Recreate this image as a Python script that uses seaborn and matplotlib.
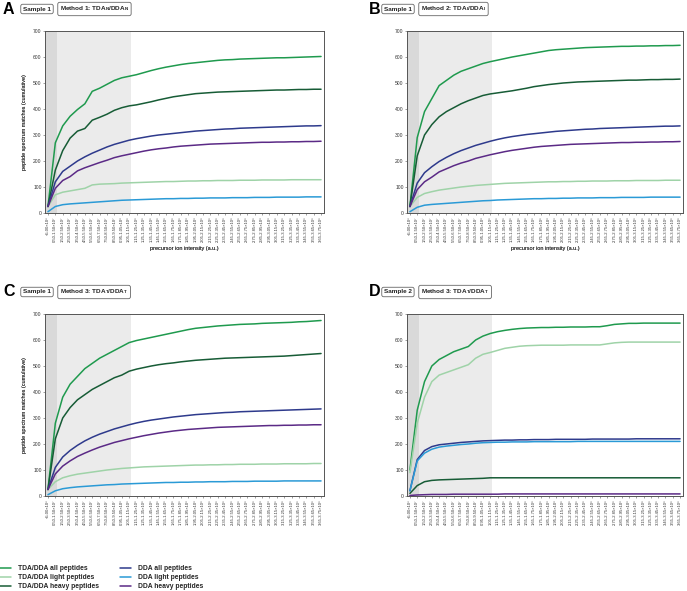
import matplotlib
matplotlib.use("Agg")
import matplotlib.pyplot as plt
import seaborn as sns
import pandas as pd

sns.set_theme(style="white")
plt.rcParams["font.family"] = ["Liberation Sans", "DejaVu Sans"]
plt.rcParams["mathtext.fontset"] = "custom"
plt.rcParams["mathtext.rm"] = "Liberation Sans"
plt.rcParams["mathtext.bf"] = "Liberation Sans:bold"

# ---------------- data ----------------
tick_ranges = ["<5.00", "0.50-1.50", "1.50-2.50", "2.50-3.50", "3.50-4.50", "4.50-5.50",
               "5.50-6.50", "6.50-7.50", "7.50-8.50", "8.50-9.50", "0.95-1.05", "1.05-1.15",
               "1.15-1.25", "1.25-1.35", "1.35-1.45", "1.45-1.55", "1.55-1.65", "1.65-1.75",
               "1.75-1.85", "1.85-1.95", "1.95-2.05", "2.05-2.15", "2.15-2.25", "2.25-2.35",
               "2.35-2.45", "2.45-2.55", "2.55-2.65", "2.65-2.75", "2.75-2.85", "2.85-2.95",
               "2.95-3.05", "3.05-3.15", "3.15-3.25", "3.25-3.35", "3.35-3.45", "3.45-3.55",
               "3.55-3.65", "3.65-3.75"]
tick_exps = ["⁶", "⁷", "⁷", "⁷", "⁷", "⁷", "⁷", "⁷", "⁷", "⁷", "⁸", "⁸", "⁸", "⁸", "⁸", "⁸",
             "⁸", "⁸", "⁸", "⁸", "⁸", "⁸", "⁸", "⁸", "⁸", "⁸", "⁸", "⁸", "⁸", "⁸", "⁸", "⁸",
             "⁸", "⁸", "⁸", "⁸", "⁸", "⁸"]

series_names = ["TDA/DDA all peptides", "TDA/DDA light peptides", "TDA/DDA heavy peptides",
                "DDA all peptides", "DDA light peptides", "DDA heavy peptides"]
series_colors = ["#1f9a4e", "#9fd3a8", "#175c36", "#2e3a8c", "#2a9ad6", "#5b2a86"]

# Panel A: Sample 1, Method 1
tda_all_A = [25, 270, 335, 372, 398, 420, 468, 480, 495, 510, 520, 526, 532, 540, 548, 555, 561, 566, 571, 575, 578, 581, 584, 587, 589, 590, 592, 593, 594, 595, 596, 597, 597, 598, 599, 600, 601, 602]
tda_light_A = [25, 70, 80, 85, 90, 95, 108, 111, 112, 113, 115, 116, 117, 118, 119, 120, 121, 121, 122, 123, 123, 124, 124, 125, 125, 125, 126, 126, 126, 127, 127, 127, 127, 128, 128, 128, 128, 128]
tda_heavy_A = [25, 165, 240, 288, 315, 325, 357, 368, 380, 395, 405, 412, 416, 422, 428, 435, 441, 447, 451, 455, 459, 461, 463, 465, 466, 467, 468, 469, 470, 471, 472, 473, 473, 474, 475, 475, 476, 476]
dda_all_A = [25, 120, 160, 180, 200, 216, 230, 242, 254, 264, 272, 280, 286, 291, 296, 300, 303, 306, 309, 312, 315, 317, 319, 321, 323, 324, 326, 327, 328, 329, 330, 331, 332, 333, 334, 335, 335, 336]
dda_light_A = [5, 25, 32, 35, 37, 39, 41, 43, 45, 47, 49, 50, 51, 52, 53, 54, 55, 55, 56, 56, 57, 57, 58, 58, 58, 59, 59, 59, 60, 60, 60, 61, 61, 61, 61, 62, 62, 62]
dda_heavy_A = [25, 95, 125, 140, 162, 174, 184, 194, 203, 213, 220, 226, 232, 238, 243, 247, 250, 254, 257, 259, 261, 263, 265, 266, 267, 268, 269, 270, 271, 272, 272, 273, 273, 274, 274, 275, 275, 276]

# Panel B: Sample 1, Method 2
tda_all_B = [25, 290, 390, 440, 490, 510, 530, 545, 555, 565, 575, 582, 588, 594, 600, 605, 610, 615, 620, 625, 628, 630, 632, 634, 636, 637, 638, 639, 640, 641, 641, 642, 642, 643, 643, 644, 644, 645]
tda_light_B = [25, 60, 75, 82, 88, 92, 96, 100, 103, 106, 108, 110, 112, 114, 115, 116, 117, 118, 119, 120, 120, 121, 121, 122, 122, 123, 123, 123, 124, 124, 124, 125, 125, 125, 125, 126, 126, 126]
tda_heavy_B = [25, 220, 300, 340, 370, 390, 405, 420, 432, 442, 452, 458, 462, 466, 470, 475, 480, 486, 490, 494, 497, 500, 502, 504, 505, 506, 507, 508, 509, 510, 511, 511, 512, 513, 513, 514, 514, 515]
dda_all_B = [25, 115, 155, 178, 198, 214, 228, 240, 250, 260, 268, 276, 283, 289, 294, 298, 302, 305, 308, 311, 314, 316, 318, 320, 322, 323, 325, 326, 327, 328, 329, 330, 331, 332, 333, 334, 334, 335]
dda_light_B = [5, 22, 30, 33, 35, 37, 39, 41, 43, 45, 47, 48, 50, 51, 52, 53, 54, 55, 55, 56, 56, 57, 57, 58, 58, 58, 59, 59, 59, 60, 60, 60, 60, 61, 61, 61, 61, 61]
dda_heavy_B = [25, 90, 120, 138, 158, 170, 182, 192, 200, 210, 217, 224, 230, 236, 241, 245, 249, 253, 256, 258, 260, 262, 264, 265, 266, 267, 268, 269, 270, 271, 271, 272, 272, 273, 273, 274, 274, 275]

# Panel C: Sample 1, Method 3
tda_all_C = [25, 280, 380, 430, 460, 490, 510, 530, 545, 560, 575, 590, 598, 604, 610, 616, 622, 628, 634, 640, 645, 648, 651, 654, 656, 658, 660, 661, 662, 664, 665, 666, 667, 668, 670, 671, 673, 675]
tda_light_C = [25, 55, 70, 78, 84, 88, 92, 96, 100, 103, 106, 108, 110, 112, 113, 114, 115, 116, 117, 118, 119, 119, 120, 120, 121, 121, 122, 122, 122, 123, 123, 123, 124, 124, 124, 124, 125, 125]
tda_heavy_C = [25, 220, 300, 340, 370, 390, 410, 425, 440, 455, 465, 480, 488, 494, 500, 505, 509, 512, 516, 519, 522, 524, 526, 528, 530, 531, 532, 533, 534, 535, 536, 537, 538, 540, 542, 544, 546, 548]
dda_all_C = [25, 110, 150, 175, 195, 212, 226, 238, 248, 258, 266, 274, 281, 287, 292, 296, 300, 304, 307, 310, 313, 315, 317, 319, 321, 322, 324, 325, 326, 327, 328, 329, 330, 331, 332, 333, 334, 335]
dda_light_C = [5, 20, 28, 32, 35, 37, 39, 41, 43, 44, 46, 47, 48, 49, 50, 51, 52, 52, 53, 53, 54, 54, 55, 55, 55, 56, 56, 56, 57, 57, 57, 57, 58, 58, 58, 58, 58, 58]
dda_heavy_C = [25, 85, 115, 135, 152, 165, 177, 188, 197, 206, 213, 220, 226, 232, 237, 242, 246, 250, 253, 256, 258, 260, 262, 264, 265, 266, 267, 268, 269, 270, 271, 271, 272, 272, 273, 273, 274, 274]

# Panel D: Sample 2, Method 3
tda_all_D = [100, 330, 440, 500, 525, 540, 555, 565, 575, 600, 615, 625, 632, 637, 641, 644, 646, 647, 648, 648, 649, 649, 650, 650, 650, 651, 651, 655, 660, 662, 664, 664, 665, 665, 665, 665, 665, 665]
tda_light_D = [90, 280, 380, 440, 465, 475, 485, 495, 505, 530, 545, 552, 560, 568, 572, 576, 578, 579, 580, 580, 580, 580, 581, 581, 581, 581, 581, 585, 589, 591, 592, 592, 592, 592, 592, 592, 592, 592]
tda_heavy_D = [10, 40, 55, 60, 62, 63, 64, 65, 66, 67, 68, 70, 70, 70, 70, 70, 70, 70, 70, 70, 70, 70, 70, 70, 70, 70, 70, 70, 70, 70, 70, 70, 70, 70, 70, 70, 70, 70]
dda_all_D = [20, 140, 175, 190, 197, 200, 203, 206, 208, 210, 212, 213, 214, 215, 215, 216, 216, 217, 217, 217, 218, 218, 218, 218, 218, 219, 219, 219, 219, 219, 219, 220, 220, 220, 220, 220, 220, 220]
dda_light_D = [20, 135, 165, 180, 188, 192, 195, 198, 200, 203, 205, 206, 207, 207, 208, 208, 208, 209, 209, 209, 209, 209, 209, 210, 210, 210, 210, 210, 210, 210, 210, 210, 210, 210, 210, 210, 210, 210]
dda_heavy_D = [2, 4, 5, 6, 6, 6, 7, 7, 7, 7, 7, 7, 7, 8, 8, 8, 8, 8, 8, 8, 8, 8, 8, 8, 8, 8, 8, 8, 8, 8, 8, 8, 8, 8, 8, 8, 8, 8]

panel_letters = ["A", "B", "C", "D"]
panel_samples = ["Sample 1", "Sample 1", "Sample 1", "Sample 2"]
panel_methods = [r"Method 1: TDA$_\mathregular{N}$/DDA$_\mathregular{N}$",
                 r"Method 2: TDA$_\mathregular{I}$/DDA$_\mathregular{I}$",
                 r"Method 3: TDA$_\mathregular{T}$/DDA$_\mathregular{T}$",
                 r"Method 3: TDA$_\mathregular{T}$/DDA$_\mathregular{T}$"]
panel_series = [
    [tda_all_A, tda_light_A, tda_heavy_A, dda_all_A, dda_light_A, dda_heavy_A],
    [tda_all_B, tda_light_B, tda_heavy_B, dda_all_B, dda_light_B, dda_heavy_B],
    [tda_all_C, tda_light_C, tda_heavy_C, dda_all_C, dda_light_C, dda_heavy_C],
    [tda_all_D, tda_light_D, tda_heavy_D, dda_all_D, dda_light_D, dda_heavy_D],
]

# ---------------- layout ----------------
W, H = 687, 591
fig = plt.figure(figsize=(W / 100, H / 100), dpi=100)
fig.patch.set_facecolor("white")


def px(x, y):
    return x / W, 1 - y / H


# (left, top, right, bottom) in pixels
boxes = [(45, 31, 324, 213), (407, 31, 683, 213), (45, 314, 324, 496), (407, 314, 683, 496)]
header_pos = [(3, 23, 60), (369, 384, 421), (3, 23, 60), (369, 384, 421)]

xtick_labels = [f"{r}×10{e}" for r, e in zip(tick_ranges, tick_exps)]
xs = list(range(len(tick_ranges)))

axes = []
for k in range(4):
    l, t, r, b = boxes[k]
    ax = fig.add_axes([l / W, 1 - b / H, (r - l) / W, (b - t) / H])
    axes.append(ax)
    ax.set_facecolor("white")
    ax.axvspan(-0.4, 1.2, color="#d9d9d9", lw=0, zorder=0)
    ax.axvspan(1.2, 11.2, color="#ebebeb", lw=0, zorder=0)

    rows = []
    for name, vals in zip(series_names, panel_series[k]):
        for x, v in zip(xs, vals):
            rows.append({"bin": x, "psm": v, "series": name})
    df = pd.DataFrame(rows)
    sns.lineplot(data=df, x="bin", y="psm", hue="series", hue_order=series_names,
                 palette=series_colors, linewidth=1.1, legend=False, ax=ax, zorder=3)

    ax.set_xlim(-0.4, 37.4)
    ax.set_ylim(0, 700)
    ax.set_yticks(range(0, 701, 100))
    ax.set_yticklabels([str(v) for v in range(0, 701, 100)], fontsize=3.6, color="#333333")
    ax.set_xticks(xs)
    ax.set_xticklabels(xtick_labels, rotation=90, fontsize=3.0, color="#333333")
    ax.tick_params(axis="both", length=1.2, width=0.4, pad=1.2, colors="#555555",
                   labelcolor="#333333", bottom=True, left=True)
    for sp in ax.spines.values():
        sp.set_color("#555555")
        sp.set_linewidth(0.7)
    ax.set_xlabel("precursor ion intensity (a.u.)", fontsize=4.0, color="#333333")
    ax.set_ylabel("peptide spectrum matches (cumulative)", fontsize=4.0, color="#333333")
    ax.xaxis.set_label_coords(0.5, -(246 - b) / (b - t))
    ax.yaxis.set_label_coords(-(l - 27) / (r - l), 0.5)

    lx, sx, mx = header_pos[k]
    hy = t - 22
    fig.text(*px(lx, hy), panel_letters[k], fontsize=11.5, fontweight="bold",
             va="center", ha="left", color="black")
    bb = dict(boxstyle="round,pad=0.35,rounding_size=0.3", fc="white", ec="#666666", lw=0.6)
    fig.text(*px(sx, hy), panel_samples[k], fontsize=4.6, fontweight="bold",
             va="center", ha="left", bbox=bb, color="#222222")
    fig.text(*px(mx, hy), panel_methods[k], fontsize=4.6, fontweight="bold",
             va="center", ha="left", bbox=bb, color="#222222")

handles = axes[0].get_lines()[:6]
fig.legend(handles, series_names, loc="upper left", bbox_to_anchor=px(0, 565), ncol=2,
           frameon=False, prop={"weight": "bold", "size": 4.9}, handlelength=1.6,
           handletextpad=1.0, columnspacing=3.2, labelspacing=0.3, borderaxespad=0,
           borderpad=0)

fig.savefig("out.png", dpi=100, facecolor="white")
